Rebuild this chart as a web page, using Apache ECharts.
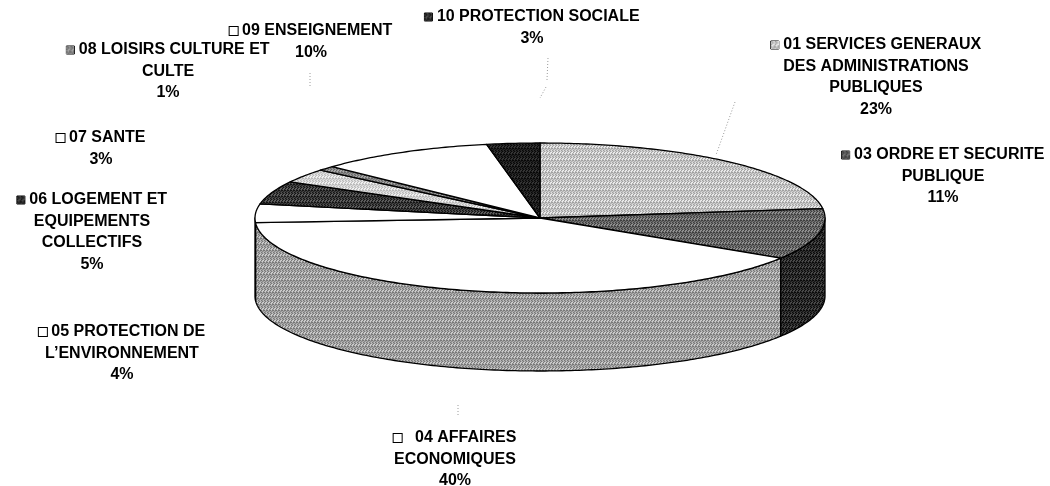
<!DOCTYPE html>
<html><head><meta charset="utf-8">
<script src="https://cdn.jsdelivr.net/npm/echarts@6/dist/echarts.min.js"></script>
<style>html,body{margin:0;padding:0;background:#fff}#c{width:1050px;height:486px}</style>
</head><body><div id="c"></div>
<script>
// ---- data ----
const categories = [
  '01 SERVICES GENERAUX\nDES ADMINISTRATIONS\nPUBLIQUES',
  '03 ORDRE ET SECURITE\nPUBLIQUE',
  '04 AFFAIRES\nECONOMIQUES',
  '05 PROTECTION DE\nL\u2019ENVIRONNEMENT',
  '06 LOGEMENT ET\nEQUIPEMENTS\nCOLLECTIFS',
  '07 SANTE',
  '08 LOISIRS CULTURE ET\nCULTE',
  '09 ENSEIGNEMENT',
  '10 PROTECTION SOCIALE'
];
const values = [23, 11, 40, 4, 5, 3, 1, 10, 3];

// ---- styles: [mean grey, texture amplitude] ----
const topShades  = [[200, 40], [106, 45], [255, 0], [255, 0], [60, 40], [215, 30], [138, 35], [255, 0], [32, 25]];
const sideShades = [[150, 40], [44, 35], [164, 45], [255, 0], [34, 25], [170, 30], [90, 30], [204, 0], [17, 10]];
const boxShades  = [[200, 40], [90, 30], [255, 0], [255, 0], [50, 30], [255, 0], [136, 30], [255, 0], [50, 30]];
const geo = {cx: 540, cy: 218, rx: 285, ry: 75, depth: 78};
// label anchor: [centre x, first line centre y], leader polylines
const labelPos = [[876, 45], [943, 155], [455, 438], [122, 332], [92, 200], [101, 138], [168, 50], [311, 31], [532, 17]];
const leaders = [
  [[735, 102], [716, 155]],
  [[548, 58], [547, 80]],
  [[546, 87], [540, 98]],
  [[310, 73], [310, 86]],
  [[458, 405], [458, 415]]
];

function shadeFill(s) {
  const [m, a] = s;
  if (!a) { const h = Math.round(m).toString(16).padStart(2, '0'); return '#' + h + h + h; }
  const N = 6, cv = document.createElement('canvas'); cv.width = N; cv.height = N;
  const ctx = cv.getContext('2d'), img = ctx.createImageData(N, N);
  for (let y = 0; y < N; y++) for (let x = 0; x < N; x++) {
    const k = (x * 2 + y * 3 + ((x * y) % 3)) % 6;
    const v = Math.max(0, Math.min(255, Math.round(m + a * (k - 2.5) / 2.5)));
    const p = (y * N + x) * 4; img.data[p] = img.data[p + 1] = img.data[p + 2] = v; img.data[p + 3] = 255;
  }
  ctx.putImageData(img, 0, 0);
  return {image: cv, repeat: 'repeat'};
}
const topFills = topShades.map(shadeFill);
const sideFills = sideShades.map(shadeFill);

const total = values.reduce((a, b) => a + b, 0);
const starts = [];
{ let acc = 0; values.forEach(v => { starts.push(acc); acc += v; }); }
const ang = f => -Math.PI / 2 + f * 2 * Math.PI;
const pt = (t, dy) => [geo.cx + geo.rx * Math.cos(t), geo.cy + dy + geo.ry * Math.sin(t)];
function arc(t0, t1, dy) {
  const n = Math.max(2, Math.ceil(Math.abs(t1 - t0) / 0.015));
  const pts = [];
  for (let k = 0; k <= n; k++) pts.push(pt(t0 + (t1 - t0) * k / n, dy));
  return pts;
}
function sliceAngles(i, api) {
  const v = api.value(0);
  return [ang(starts[i] / total), ang((starts[i] + v) / total)];
}
function renderSide(params, api) {
  const i = params.dataIndex;
  const [t0, t1] = sliceAngles(i, api);
  const a = Math.max(t0, 0), b = Math.min(t1, Math.PI);
  if (b <= a) return {type: 'group', children: []};
  const pts = arc(a, b, 0).concat(arc(b, a, geo.depth));
  return {type: 'polygon', shape: {points: pts},
    style: {fill: sideFills[i], stroke: '#000', lineWidth: 1.3, lineJoin: 'round'}};
}
function renderTop(params, api) {
  const i = params.dataIndex;
  const [t0, t1] = sliceAngles(i, api);
  const pts = [[geo.cx, geo.cy]].concat(arc(t0, t1, 0));
  return {type: 'polygon', shape: {points: pts},
    style: {fill: topFills[i], stroke: '#000', lineWidth: 1.3, lineJoin: 'round'}};
}

const FONT = 'Liberation Sans, Arial, sans-serif';
const LH = 21.5;
const graphics = [];
categories.forEach((c, i) => {
  const lines = c.split('\n');
  const gap = i === 2 ? '   ' : ' ';
  let txt = '{b|}{t|' + gap + lines[0] + '}';
  for (let k = 1; k < lines.length; k++) txt += '\n{t|' + lines[k] + '}';
  txt += '\n{t|' + values[i] + '%}';
  graphics.push({
    type: 'text', x: labelPos[i][0], y: labelPos[i][1] - LH / 2, silent: true,
    style: {
      text: txt, align: 'center', verticalAlign: 'top',
      fontFamily: FONT, fontWeight: 'bold', fontSize: 16, lineHeight: LH, fill: '#000',
      rich: {
        t: {fontFamily: FONT, fontWeight: 'bold', fontSize: 16, lineHeight: LH, fill: '#000'},
        b: {width: 8, height: 8, backgroundColor: shadeFill(boxShades[i]), borderColor: '#000', borderWidth: 1, lineHeight: LH}
      }
    }
  });
});
leaders.forEach(l => graphics.push({
  type: 'polyline', silent: true, shape: {points: l},
  style: {stroke: '#9a9a9a', lineWidth: 1, lineDash: [1, 2], fill: null}
}));

const chart = echarts.init(document.getElementById('c'), null, {renderer: 'canvas'});
chart.setOption({
  animation: false,
  backgroundColor: '#fff',
  series: [
    {type: 'custom', coordinateSystem: 'none', renderItem: renderSide, data: values, z: 1, silent: true},
    {type: 'custom', coordinateSystem: 'none', renderItem: renderTop, data: values, z: 2, silent: true}
  ],
  graphic: graphics
});
</script></body></html>
